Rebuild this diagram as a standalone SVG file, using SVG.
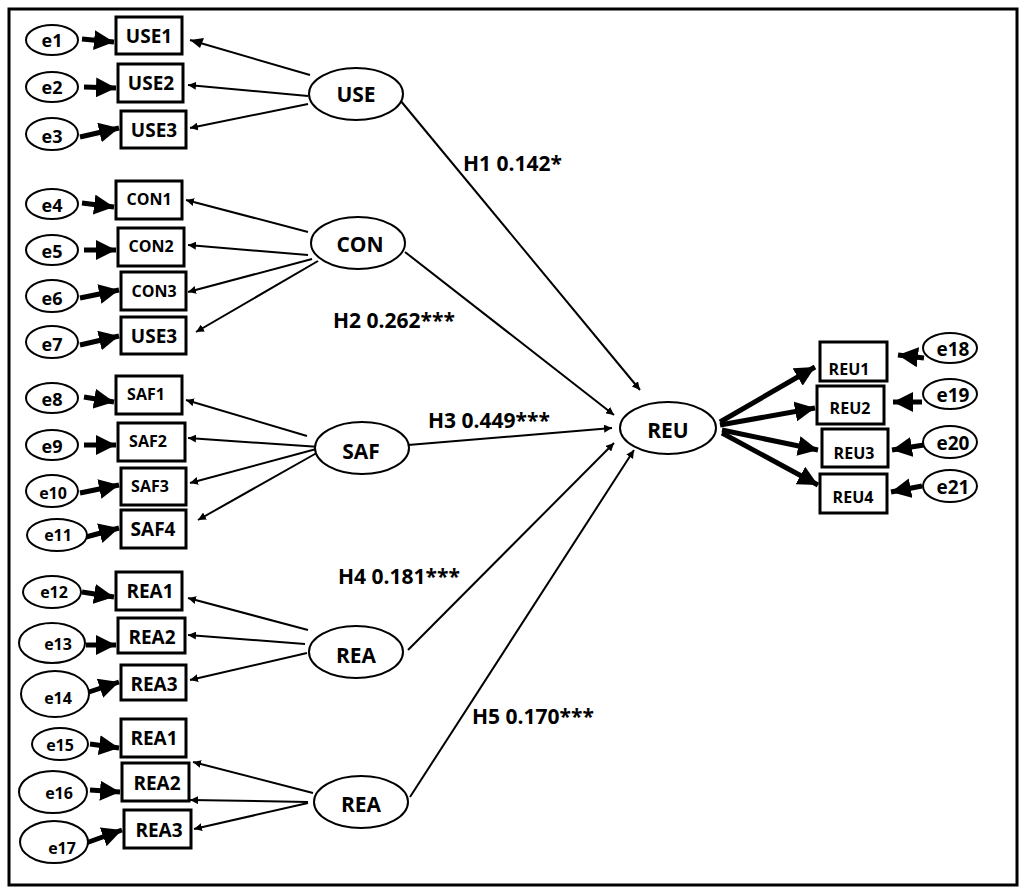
<svg xmlns="http://www.w3.org/2000/svg" width="1024" height="894" viewBox="0 0 1024 894">
<style>
.t{font-family:"Open Sans","Liberation Sans",sans-serif;font-weight:bold;fill:#000}
.box{fill:#fff;stroke:#000;stroke-width:3}
.el{fill:#fff;stroke:#000;stroke-width:2}
.thin{stroke:#000;stroke-width:2;fill:none;marker-end:url(#a)}
.thick{stroke:#000;stroke-width:5;fill:none;marker-end:url(#b)}
</style>
<defs>
<marker id="a" viewBox="0 0 10 10" refX="10" refY="5" markerWidth="8" markerHeight="8" markerUnits="userSpaceOnUse" orient="auto"><path d="M0,0L10,5L0,10z" transform="scale(1)"/></marker>
<marker id="b" viewBox="0 0 10 10" refX="10" refY="5" markerWidth="4" markerHeight="4" orient="auto"><path d="M0,0L10,5L0,10z"/></marker>
</defs>
<rect width="1024" height="894" fill="#fff"/>
<rect x="9" y="9" width="1008" height="876" fill="none" stroke="#000" stroke-width="3"/>
<g id="connectors">
<line class="thin" x1="310" y1="75" x2="190" y2="40" style="marker-end:none"/><path d="M190,40l14,-2l-4,10z"/>
<line class="thin" x1="308" y1="96" x2="188" y2="85"/>
<line class="thin" x1="308" y1="104" x2="190" y2="128"/>
<line class="thin" x1="308" y1="232" x2="186" y2="200"/>
<line class="thin" x1="308" y1="255" x2="188" y2="245"/>
<line class="thin" x1="312" y1="259" x2="188" y2="292"/>
<line class="thin" x1="318" y1="261" x2="196" y2="332"/>
<line class="thin" x1="307" y1="436" x2="186" y2="400"/>
<line class="thin" x1="320" y1="447" x2="188" y2="438"/>
<line class="thin" x1="320" y1="448" x2="190" y2="483"/>
<line class="thin" x1="322" y1="450" x2="198" y2="520"/>
<line class="thin" x1="308" y1="630" x2="188" y2="598"/>
<line class="thin" x1="305" y1="644" x2="188" y2="635"/>
<line class="thin" x1="307" y1="653" x2="190" y2="680"/>
<line class="thin" x1="313" y1="793" x2="193" y2="762"/>
<line class="thin" x1="308" y1="802" x2="190" y2="800"/>
<line class="thin" x1="308" y1="803" x2="194" y2="829"/>
<line class="thin" x1="400" y1="100" x2="640" y2="390"/>
<line class="thin" x1="405" y1="252" x2="614" y2="415"/>
<line class="thin" x1="408" y1="445" x2="612" y2="428"/>
<line class="thin" x1="408" y1="650" x2="614" y2="443"/>
<line class="thin" x1="410" y1="797" x2="634" y2="450"/>
<line class="thick" x1="720" y1="422" x2="815" y2="367"/>
<line class="thick" x1="720" y1="425" x2="815" y2="408"/>
<line class="thick" x1="722" y1="430" x2="818" y2="450"/>
<line class="thick" x1="722" y1="433" x2="818" y2="485"/>
<line class="thick" x1="82" y1="39" x2="114" y2="42"/>
<line class="thick" x1="84" y1="87" x2="116" y2="88"/>
<line class="thick" x1="80" y1="137" x2="119" y2="128"/>
<line class="thick" x1="82" y1="203" x2="114" y2="207"/>
<line class="thick" x1="84" y1="250" x2="116" y2="250"/>
<line class="thick" x1="80" y1="298" x2="119" y2="290"/>
<line class="thick" x1="80" y1="345" x2="119" y2="336"/>
<line class="thick" x1="84" y1="397" x2="114" y2="402"/>
<line class="thick" x1="84" y1="445" x2="116" y2="445"/>
<line class="thick" x1="80" y1="493" x2="119" y2="485"/>
<line class="thick" x1="86" y1="537" x2="119" y2="528"/>
<line class="thick" x1="82" y1="592" x2="114" y2="597"/>
<line class="thick" x1="86" y1="645" x2="116" y2="645"/>
<line class="thick" x1="86" y1="693" x2="119" y2="682"/>
<line class="thick" x1="90" y1="744" x2="119" y2="748"/>
<line class="thick" x1="90" y1="790" x2="120" y2="792"/>
<line class="thick" x1="86" y1="843" x2="122" y2="830"/>
<line class="thick" x1="924" y1="358" x2="898" y2="355"/>
<line class="thick" x1="922" y1="402" x2="893" y2="402"/>
<line class="thick" x1="924" y1="445" x2="892" y2="450"/>
<line class="thick" x1="922" y1="486" x2="891" y2="492"/>
</g>
<g id="latents">
<g id="USE"><ellipse class="el" cx="356" cy="94" rx="47" ry="26"/><text class="t" x="356" y="102" font-size="21" text-anchor="middle">USE</text></g>
<g id="CON"><ellipse class="el" cx="358" cy="243" rx="47" ry="26"/><text class="t" x="360" y="252" font-size="21" text-anchor="middle">CON</text></g>
<g id="SAF"><ellipse class="el" cx="362" cy="448" rx="47" ry="26"/><text class="t" x="361" y="459" font-size="21" text-anchor="middle">SAF</text></g>
<g id="REA"><ellipse class="el" cx="356" cy="652" rx="47" ry="26"/><text class="t" x="356" y="663" font-size="21" text-anchor="middle">REA</text></g>
<g id="REA_2"><ellipse class="el" cx="361" cy="802" rx="47" ry="26"/><text class="t" x="361" y="812" font-size="21" text-anchor="middle">REA</text></g>
<g id="REU"><ellipse class="el" cx="668" cy="428" rx="48" ry="26"/><text class="t" x="668" y="438" font-size="21" text-anchor="middle">REU</text></g>
</g>
<g id="indicators" font-size="19">
<g id="USE1"><rect class="box" x="116" y="17" width="66" height="37"/><text class="t" x="149" y="43" text-anchor="middle">USE1</text></g>
<g id="USE2"><rect class="box" x="118" y="64" width="65" height="38"/><text class="t" x="151" y="90" text-anchor="middle">USE2</text></g>
<g id="USE3"><rect class="box" x="121" y="111" width="65" height="37"/><text class="t" x="154" y="137" text-anchor="middle">USE3</text></g>
<g id="CON1"><rect class="box" x="116" y="181" width="66" height="38"/><text class="t" x="149" y="205" font-size="16" text-anchor="middle">CON1</text></g>
<g id="CON2"><rect class="box" x="118" y="228" width="66" height="38"/><text class="t" x="151" y="252" font-size="16" text-anchor="middle">CON2</text></g>
<g id="CON3"><rect class="box" x="121" y="272" width="65" height="38"/><text class="t" x="154" y="297" font-size="16" text-anchor="middle">CON3</text></g>
<g id="USE3b"><rect class="box" x="121" y="317" width="65" height="37"/><text class="t" x="154" y="343" text-anchor="middle">USE3</text></g>
<g id="SAF1"><rect class="box" x="116" y="376" width="66" height="38"/><text class="t" x="146" y="400" font-size="16" text-anchor="middle">SAF1</text></g>
<g id="SAF2"><rect class="box" x="118" y="423" width="67" height="38"/><text class="t" x="148" y="447" font-size="16" text-anchor="middle">SAF2</text></g>
<g id="SAF3"><rect class="box" x="121" y="468" width="65" height="37"/><text class="t" x="150" y="492" font-size="16" text-anchor="middle">SAF3</text></g>
<g id="SAF4"><rect class="box" x="121" y="510" width="65" height="38"/><text class="t" x="153" y="536" text-anchor="middle">SAF4</text></g>
<g id="REA1"><rect class="box" x="116" y="572" width="66" height="38"/><text class="t" x="150" y="598" text-anchor="middle">REA1</text></g>
<g id="REA2"><rect class="box" x="118" y="618" width="67" height="35"/><text class="t" x="152" y="644" text-anchor="middle">REA2</text></g>
<g id="REA3"><rect class="box" x="121" y="665" width="65" height="35"/><text class="t" x="154" y="691" text-anchor="middle">REA3</text></g>
<g id="REA1b"><rect class="box" x="121" y="719" width="65" height="38"/><text class="t" x="154" y="745" text-anchor="middle">REA1</text></g>
<g id="REA2b"><rect class="box" x="122" y="763" width="67" height="38"/><text class="t" x="157" y="790" text-anchor="middle">REA2</text></g>
<g id="REA3b"><rect class="box" x="124" y="810" width="67" height="38"/><text class="t" x="159" y="837" text-anchor="middle">REA3</text></g>
<g id="REU1"><rect class="box" x="820" y="342" width="67" height="39"/><text class="t" x="849" y="375" font-size="16" text-anchor="middle">REU1</text></g>
<g id="REU2"><rect class="box" x="817" y="386" width="67" height="38"/><text class="t" x="850" y="414" font-size="16" text-anchor="middle">REU2</text></g>
<g id="REU3"><rect class="box" x="822" y="429" width="66" height="38"/><text class="t" x="854" y="459" font-size="16" text-anchor="middle">REU3</text></g>
<g id="REU4"><rect class="box" x="820" y="474" width="67" height="39"/><text class="t" x="853" y="503" font-size="16" text-anchor="middle">REU4</text></g>
</g>
<g id="errors" font-size="18">
<g id="e1"><ellipse class="el" cx="52" cy="40" rx="26" ry="15"/><text class="t" x="52" y="47" text-anchor="middle">e1</text></g>
<g id="e2"><ellipse class="el" cx="52" cy="87" rx="26" ry="15"/><text class="t" x="52" y="94" text-anchor="middle">e2</text></g>
<g id="e3"><ellipse class="el" cx="52" cy="134" rx="26" ry="16"/><text class="t" x="52" y="143" text-anchor="middle">e3</text></g>
<g id="e4"><ellipse class="el" cx="52" cy="204" rx="26" ry="15"/><text class="t" x="52" y="212" text-anchor="middle">e4</text></g>
<g id="e5"><ellipse class="el" cx="52" cy="250" rx="26" ry="15"/><text class="t" x="52" y="258" text-anchor="middle">e5</text></g>
<g id="e6"><ellipse class="el" cx="52" cy="296" rx="26" ry="16"/><text class="t" x="52" y="305" text-anchor="middle">e6</text></g>
<g id="e7"><ellipse class="el" cx="52" cy="342" rx="26" ry="16"/><text class="t" x="52" y="351" text-anchor="middle">e7</text></g>
<g id="e8"><ellipse class="el" cx="52" cy="398" rx="26" ry="15"/><text class="t" x="52" y="406" text-anchor="middle">e8</text></g>
<g id="e9"><ellipse class="el" cx="52" cy="445" rx="26" ry="15"/><text class="t" x="52" y="453" text-anchor="middle">e9</text></g>
<g id="e10"><ellipse class="el" cx="52" cy="491" rx="26" ry="16"/><text class="t" x="53" y="499" font-size="16" text-anchor="middle">e10</text></g>
<g id="e11"><ellipse class="el" cx="57" cy="535" rx="30" ry="16"/><text class="t" x="58" y="541" font-size="16" text-anchor="middle">e11</text></g>
<g id="e12"><ellipse class="el" cx="52" cy="592" rx="29" ry="16"/><text class="t" x="54" y="598" font-size="16" text-anchor="middle">e12</text></g>
<g id="e13"><ellipse class="el" cx="52" cy="643" rx="33" ry="20"/><text class="t" x="58" y="650" font-size="16" text-anchor="middle">e13</text></g>
<g id="e14"><ellipse class="el" cx="55" cy="694" rx="34" ry="23"/><text class="t" x="58" y="704" font-size="16" text-anchor="middle">e14</text></g>
<g id="e15"><ellipse class="el" cx="60" cy="744" rx="28" ry="16"/><text class="t" x="60" y="751" font-size="16" text-anchor="middle">e15</text></g>
<g id="e16"><ellipse class="el" cx="53" cy="792" rx="34" ry="21"/><text class="t" x="59" y="799" font-size="16" text-anchor="middle">e16</text></g>
<g id="e17"><ellipse class="el" cx="54" cy="842" rx="34" ry="21"/><text class="t" x="62" y="854" font-size="16" text-anchor="middle">e17</text></g>
<g id="e18"><ellipse class="el" cx="950" cy="348" rx="27" ry="15"/><text class="t" x="953" y="356" font-size="19" text-anchor="middle">e18</text></g>
<g id="e19"><ellipse class="el" cx="950" cy="394" rx="27" ry="15"/><text class="t" x="953" y="402" font-size="19" text-anchor="middle">e19</text></g>
<g id="e20"><ellipse class="el" cx="950" cy="442" rx="27" ry="16"/><text class="t" x="953" y="450" font-size="19" text-anchor="middle">e20</text></g>
<g id="e21"><ellipse class="el" cx="950" cy="486" rx="27" ry="16"/><text class="t" x="953" y="494" font-size="19" text-anchor="middle">e21</text></g>
</g>
<g id="labels" font-size="21">
<text class="t" x="463" y="171">H1 0.142*</text>
<text class="t" x="333" y="328">H2 0.262***</text>
<text class="t" x="428" y="428">H3 0.449***</text>
<text class="t" x="338" y="584">H4 0.181***</text>
<text class="t" x="472" y="724">H5 0.170***</text>
</g>
</svg>
